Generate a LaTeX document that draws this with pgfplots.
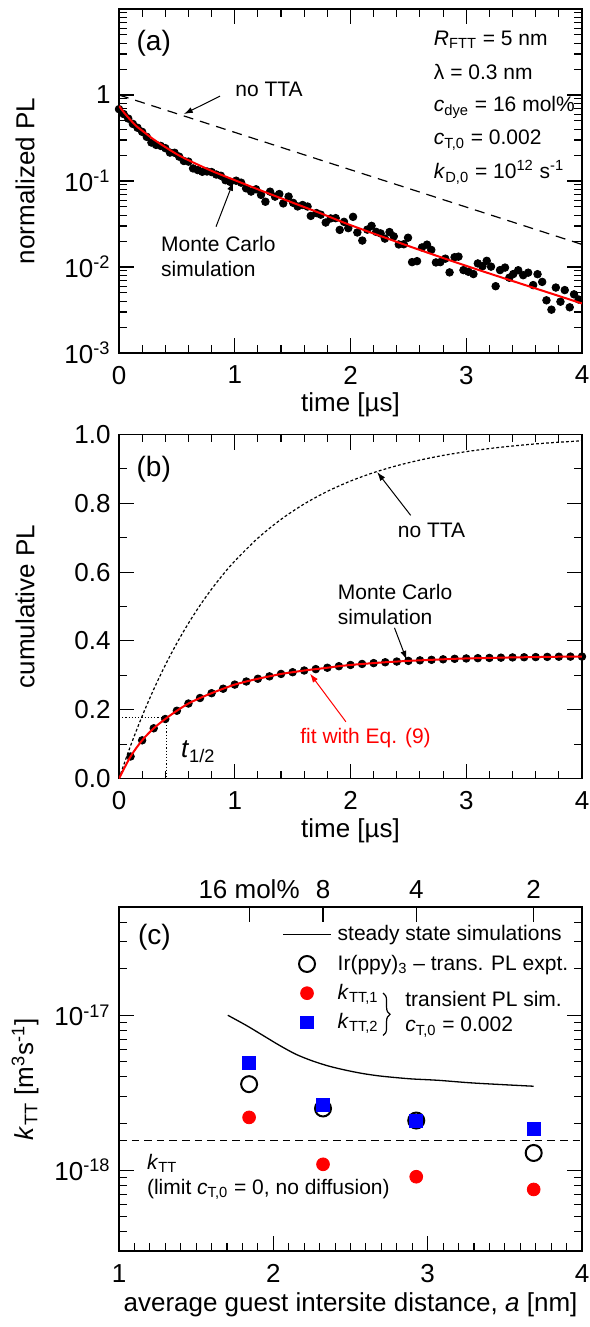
\documentclass[border=0pt]{standalone}
\usepackage{pgfplots}
\usepackage{pgfplotstable}
\pgfplotsset{compat=1.18}
\usepackage{fontspec}
\setmainfont{Liberation Sans}
\usetikzlibrary{arrows.meta,decorations.pathreplacing}

\newcommand{\tickfont}{\fontsize{13}{15}\selectfont}
\newcommand{\notefont}{\fontsize{10.5}{12.5}\selectfont}
\newcommand{\panelfont}{\fontsize{14}{16}\selectfont}

% panel (a): Monte Carlo transient PL
\pgfplotstableread{
t v
0.00 0.685
0.04 0.601
0.08 0.532
0.12 0.461
0.16 0.416
0.20 0.373
0.24 0.326
0.28 0.280
0.32 0.263
0.36 0.256
0.40 0.241
0.44 0.214
0.48 0.213
0.52 0.192
0.56 0.171
0.60 0.168
0.64 0.140
0.68 0.134
0.72 0.128
0.76 0.129
0.80 0.127
0.84 0.119
0.88 0.115
0.92 0.102
0.96 0.0978
1.012 0.1008
1.055 0.0957
1.098 0.0822
1.141 0.0754
1.184 0.0801
1.227 0.0690
1.265 0.0574
1.305 0.0752
1.348 0.0658
1.385 0.0706
1.419 0.0549
1.465 0.0660
1.505 0.0557
1.543 0.0506
1.586 0.0526
1.629 0.0505
1.657 0.0393
1.706 0.0424
1.743 0.0406
1.786 0.0329
1.829 0.0367
1.872 0.0370
1.907 0.0270
1.944 0.0335
1.981 0.0283
2.022 0.0383
2.059 0.0252
2.102 0.0203
2.145 0.0272
2.182 0.0301
2.222 0.0256
2.260 0.0246
2.297 0.0214
2.337 0.0255
2.374 0.0227
2.417 0.0183
2.460 0.0184
2.497 0.0219
2.532 0.0114
2.575 0.0117
2.618 0.0169
2.661 0.0182
2.698 0.0158
2.738 0.0113
2.776 0.0114
2.819 0.0125
2.856 0.00866
2.899 0.0130
2.933 0.0132
2.976 0.00920
3.019 0.00880
3.062 0.00828
3.100 0.0110
3.140 0.0102
3.177 0.0118
3.214 0.0101
3.254 0.00598
3.292 0.00921
3.335 0.00985
3.372 0.00751
3.406 0.00828
3.449 0.00917
3.492 0.00803
3.535 0.00859
3.578 0.00616
3.616 0.00825
3.656 0.00671
3.693 0.00410
3.736 0.00319
3.774 0.00577
3.814 0.00395
3.851 0.00539
3.894 0.00340
3.931 0.00481
3.971 0.00419
}\mcdecay

\pgfplotstableread{
t v
0 0.745
0.05 0.609
0.1 0.511
0.15 0.435
0.2 0.385
0.3 0.304
0.4 0.248
0.5 0.205
0.6 0.1745
0.8 0.1312
1.0 0.1023
1.25 0.0754
1.5 0.0560
1.75 0.0417
2.0 0.0307
2.5 0.01757
3.0 0.01031
3.5 0.00622
4.0 0.00377
}\fitdecay

% panel (b): cumulative PL
\pgfplotstableread{
t v
0.0 0
0.1 0.064
0.2 0.111
0.3 0.146
0.4 0.173
0.5 0.197
0.6 0.218
0.7 0.234
0.8 0.248
0.9 0.261
1.0 0.273
1.1 0.282
1.2 0.290
1.3 0.297
1.4 0.304
1.5 0.309
1.6 0.314
1.7 0.318
1.8 0.322
1.9 0.3265
2.0 0.330
2.1 0.333
2.2 0.3355
2.3 0.338
2.4 0.340
2.5 0.342
2.6 0.3435
2.7 0.345
2.8 0.3465
2.9 0.348
3.0 0.349
3.1 0.3498
3.2 0.3505
3.3 0.3513
3.4 0.352
3.5 0.3525
3.6 0.353
3.7 0.3535
3.8 0.354
3.9 0.3543
4.0 0.3545
}\cumul

\pgfplotstableread{
t v
0.0 0
0.1 0.0952
0.2 0.1813
0.3 0.2592
0.4 0.3297
0.5 0.3935
0.6 0.4512
0.7 0.5034
0.8 0.5507
0.9 0.5934
1.0 0.6321
1.2 0.6988
1.4 0.7534
1.6 0.7981
1.8 0.8347
2.0 0.8647
2.2 0.8892
2.4 0.9093
2.6 0.9257
2.8 0.9392
3.0 0.9502
3.2 0.9592
3.4 0.9666
3.6 0.9727
3.8 0.9776
4.0 0.9817
}\notta

% panel (c)
\pgfplotstableread{
a k
1.705 1.00e-17
1.824 8.61e-18
1.931 7.43e-18
2.039 6.40e-18
2.146 5.60e-18
2.254 5.07e-18
2.361 4.69e-18
2.469 4.42e-18
2.576 4.21e-18
2.684 4.06e-18
2.792 3.96e-18
2.899 3.88e-18
3.071 3.80e-18
3.300 3.65e-18
3.687 3.48e-18
}\steady

\pgfplotstableread{
a expt sima simb
1.843 3.59e-18 2.19e-18 4.92e-18
2.322 2.50e-18 1.09e-18 2.63e-18
2.926 2.09e-18 0.906e-18 2.07e-18
3.687 1.29e-18 0.75e-18 1.84e-18
}\kttdata

\pgfplotsset{
  panel/.style={
    width=231.5pt, height=172pt, scale only axis,
    tick align=inside,
    major tick length=7.5pt, minor tick length=3.8pt,
    axis line style={line width=0.7pt},
    every tick/.style={black, line width=0.55pt},
    tick label style={font=\tickfont},
    label style={font=\tickfont},
    xticklabel style={yshift=-3pt},
    xlabel style={at={(axis description cs:0.5,-0.151)}, anchor=center},
    ylabel style={at={(axis description cs:-0.203,0.5)}, anchor=center},
    clip mode=individual,
  },
  every node/.append style={inner sep=0pt},
}

\tikzset{arr/.style={-{Latex[length=4.5pt,width=3pt]}, line width=0.5pt}}

\begin{document}
\begin{tikzpicture}

% ---------------- (a)
\begin{axis}[panel, at={(0,-176.5pt)}, anchor=south west,
  xmin=0, xmax=4, ymode=log, ymin=1e-3, ymax=10,
  xtick={0,1,2,3,4}, xticklabels={0,1,2,3,4}, minor x tick num=4,
  ytick={1e-3,1e-2,1e-1,1,10},
  yticklabels={10\textsuperscript{-3},10\textsuperscript{-2},10\textsuperscript{-1},1,{}},
  yticklabel style={inner sep=4pt},
  minor ytick={0.002,0.003,0.004,0.005,0.006,0.007,0.008,0.009,
    0.02,0.03,0.04,0.05,0.06,0.07,0.08,0.09,
    0.2,0.3,0.4,0.5,0.6,0.7,0.8,0.9,2,3,4,5,6,7,8,9},
  xlabel={time [µs]}, ylabel={normalized PL},
]
\addplot[black, line width=0.6pt, dash pattern=on 5pt off 3.5pt] coordinates {(0,1) (4,0.0183)};
\addplot[only marks, mark=*, mark size=1.9pt, black] table[x=t, y=v] {\mcdecay};
\addplot[red, line width=1pt, smooth] table[x=t, y=v] {\fitdecay};
\node[font=\panelfont] at (axis cs:0.30,4.0) {(a)};
\node[font=\notefont] at (axis cs:1.296,1.17) {no TTA};
\draw[arr] (axis cs:0.873,0.97) -- (axis cs:0.56,0.60);
\node[font=\notefont, align=left, anchor=west] at (axis cs:0.303,0.0134) {Monte Carlo\\simulation};
\draw[arr] (axis cs:0.838,0.0294) -- (axis cs:0.988,0.098);
\node[font=\notefont, anchor=base west] at (axis description cs:0.665,0.895) {\textit{R}\textsubscript{FTT} = 5 nm};
\node[font=\notefont, anchor=base west] at (axis description cs:0.665,0.794) {λ = 0.3 nm};
\node[font=\notefont, anchor=base west] at (axis description cs:0.665,0.701) {\textit{c}\textsubscript{dye} = 16 mol\%};
\node[font=\notefont, anchor=base west] at (axis description cs:0.665,0.605) {\textit{c}\textsubscript{T,0} = 0.002};
\node[font=\notefont, anchor=base west] at (axis description cs:0.665,0.506) {\textit{k}\textsubscript{D,0} = 10\textsuperscript{12} s\textsuperscript{-1}};
\end{axis}

% ---------------- (b)
\begin{axis}[panel, at={(0,-389.25pt)}, anchor=south west,
  xmin=0, xmax=4, ymin=0, ymax=1,
  xtick={0,1,2,3,4}, xticklabels={0,1,2,3,4}, minor x tick num=4,
  ytick={0,0.2,0.4,0.6,0.8,1}, yticklabels={0.0,0.2,0.4,0.6,0.8,1.0},
  yticklabel style={inner sep=4pt},
  minor y tick num=1,
  xlabel={time [µs]}, ylabel={cumulative PL},
]
\addplot[black, line width=0.6pt, dash pattern=on 1.4pt off 1.1pt, smooth] table[x=t, y=v] {\notta};
\addplot[black, line width=0.5pt, dash pattern=on 0.6pt off 1pt] coordinates {(0,0.176) (0.41,0.176) (0.41,0)};
\addplot[only marks, mark=*, mark size=1.9pt, black, skip coords between index={0}{1}] table[x=t, y=v] {\cumul};
\addplot[red, line width=1pt, smooth] table[x=t, y=v] {\cumul};
\node[font=\panelfont] at (axis cs:0.30,0.90) {(b)};
\node[font=\notefont] at (axis cs:2.70,0.72) {no TTA};
\draw[arr] (axis cs:2.52,0.765) -- (axis cs:2.23,0.891);
\node[font=\notefont, align=left, anchor=west] at (axis cs:1.83,0.507) {Monte Carlo\\simulation};
\draw[arr] (axis cs:2.38,0.438) -- (axis cs:2.485,0.345);
\node[font=\notefont, text=red] at (axis cs:2.13,0.118) {fit with Eq. (9)};
\draw[arr, red] (axis cs:1.96,0.165) -- (axis cs:1.65,0.305);
\node[font=\tickfont, anchor=west] at (axis cs:0.475,0.078) {\textit{t}\textsubscript{1/2}};
\end{axis}

% ---------------- (c) top concentration axis
\begin{axis}[at={(0,-625.5pt)}, anchor=south west,
  width=231.5pt, height=172pt, scale only axis,
  xmin=1, xmax=4, ymin=0, ymax=1,
  axis x line*=top, axis y line=none,
  xtick={1.843,2.322,2.926,3.687},
  xticklabels={16 mol\%\hspace{8pt},8,4,2},
  tick align=inside, major tick length=7.5pt,
  every tick/.style={black, line width=0.55pt},
  axis line style={line width=0.7pt},
  xticklabel style={font=\tickfont, inner sep=4pt},
]
\addplot[draw=none] coordinates {(1,0)};
\end{axis}

% ---------------- (c)
\begin{axis}[panel, at={(0,-625.5pt)}, anchor=south west,
  xmin=1, xmax=4, ymode=log, ymin=3e-19, ymax=5e-17,
  xtick={1,2,3,4}, xticklabels={1,2,3,4}, minor x tick num=9, xtick pos=bottom,
  ytick={1e-18,1e-17}, yticklabels={10\textsuperscript{-18},10\textsuperscript{-17}},
  yticklabel style={inner sep=4pt},
  minor ytick={3e-19,4e-19,5e-19,6e-19,7e-19,8e-19,9e-19,
    2e-18,3e-18,4e-18,5e-18,6e-18,7e-18,8e-18,9e-18,2e-17,3e-17,4e-17},
  xlabel={average guest intersite distance, \textit{a} [nm]},
  ylabel={\textit{k}\textsubscript{TT} [m\textsuperscript{3}s\textsuperscript{-1}]},
  xlabel style={at={(axis description cs:0.5,-0.157)}},
  legend style={draw=none, fill=none, font=\notefont,
    at={(axis description cs:0.352,0.95)}, anchor=north west,
    legend cell align=left, row sep=4.5pt, inner sep=0pt,
    nodes={inner xsep=3pt, inner ysep=0.5pt}},
  legend image code/.code={\draw[mark repeat=2,mark phase=2,#1] plot coordinates {(0pt,0pt) (12pt,0pt) (24pt,0pt)};},
]
\addplot[black, line width=0.65pt, smooth] table[x=a, y=k] {\steady};
\addlegendentry{steady state simulations}
\addplot[only marks, mark=o, mark size=4pt, black, mark options={line width=1pt}] table[x=a, y=expt] {\kttdata};
\addlegendentry{Ir(ppy)\textsubscript{3} – trans. PL expt.}
\addplot[only marks, mark=*, mark size=3.2pt, red] table[x=a, y=sima] {\kttdata};
\addlegendentry{\textit{k}\textsubscript{TT,1}}
\addplot[only marks, mark=square*, mark size=3.2pt, blue] table[x=a, y=simb] {\kttdata};
\addlegendentry{\textit{k}\textsubscript{TT,2}}
\addplot[black, line width=0.6pt, dash pattern=on 3.8pt off 2.5pt, forget plot] coordinates {(1,1.546e-18) (4,1.546e-18)};
\node[font=\panelfont] at (axis cs:1.23,3.2e-17) {(c)};
\draw[decorate, decoration={brace, amplitude=3.5pt}, line width=0.6pt] (axis cs:2.711,1.39e-17) -- (axis cs:2.711,7.4e-18);
\node[font=\notefont, anchor=west] at (axis cs:2.81,1.28e-17) {transient PL sim.};
\node[font=\notefont, anchor=west] at (axis cs:2.81,8.4e-18) {\textit{c}\textsubscript{T,0} = 0.002};
\node[font=\notefont, anchor=west] at (axis cs:1.136,1.11e-18) {\textit{k}\textsubscript{TT}};
\node[font=\notefont, anchor=west] at (axis cs:1.136,7.54e-19) {(limit \textit{c}\textsubscript{T,0} = 0, no diffusion)};
\end{axis}

\pgfresetboundingbox
\path[use as bounding box] (-59.5pt,0pt) rectangle (235pt,-663.5pt);
\end{tikzpicture}
\end{document}
